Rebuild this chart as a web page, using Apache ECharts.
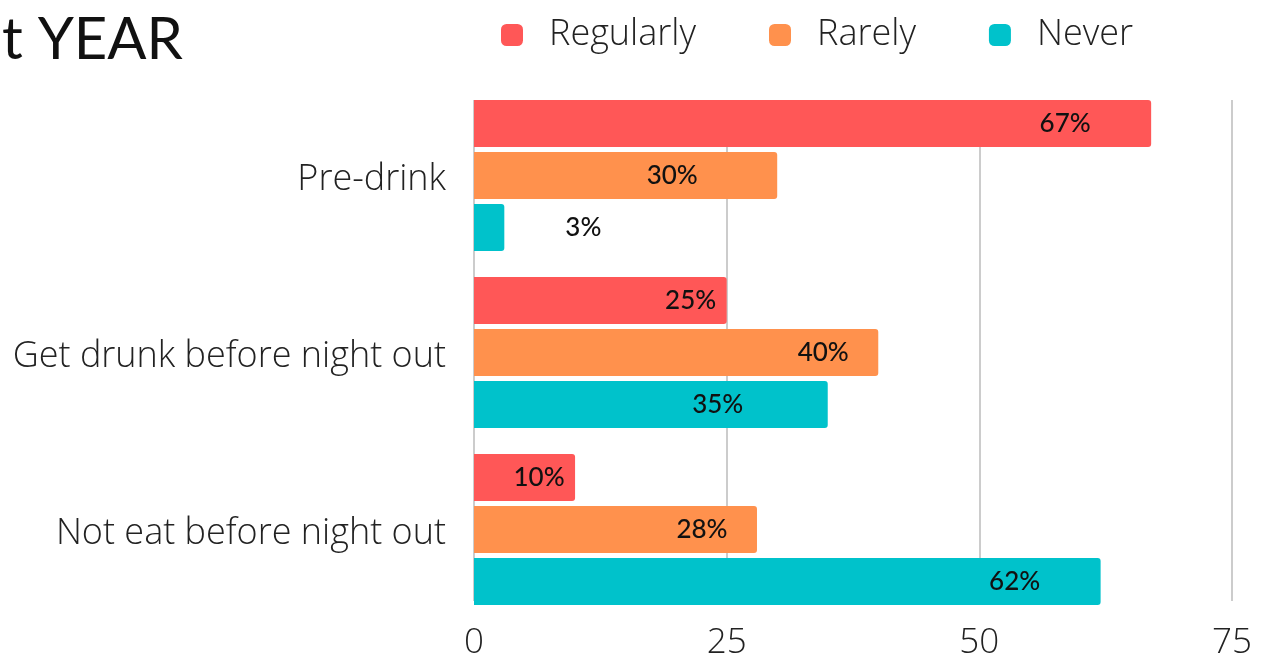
<!DOCTYPE html>
<html>
<head>
<meta charset="utf-8">
<script src="https://cdn.jsdelivr.net/npm/echarts@6/dist/echarts.min.js"></script>
<style>
  html, body { margin: 0; padding: 0; background: #ffffff; }
  #chart { width: 1264px; height: 661px; }
</style>
</head>
<body>
<div id="chart"></div>
<script>
// Habits before a night out, share of respondents (%)
const categories = ['Pre-drink', 'Get drunk before night out', 'Not eat before night out'];
const seriesNames = ['Regularly', 'Rarely', 'Never'];
const regularly = [67, 25, 10];
const rarely = [30, 40, 28];
const never = [3, 35, 62];
const xTicks = [0, 25, 50, 75];

// Horizontal distance (px) from the bar end back to the centre of its value label
const labelShift = [
  [86, 36, 36],
  [105, 55, 55],
  [-79, 110, 86]
];

const colors = ['#FF5757', '#FF914D', '#00C2CB'];
const values = [regularly, rarely, never];

const chart = echarts.init(document.getElementById('chart'), null, { renderer: 'canvas' });

const labelFont = 'Lato, "Noto Sans", sans-serif';
const axisFont = '"Open Sans", "Noto Sans", sans-serif';

const series = seriesNames.map((name, s) => ({
  name: name,
  type: 'bar',
  xAxisIndex: 1,
  yAxisIndex: 1,
  barWidth: 47,
  barGap: '10.6%',
  itemStyle: { color: colors[s], borderRadius: [0, 3, 3, 0] },
  data: values[s].map((v, i) => ({
    value: v,
    label: {
      show: true,
      position: 'insideRight',
      distance: 0,
      align: 'center',
      offset: [-labelShift[s][i], 0],
      formatter: '{c}%',
      color: '#111111',
      fontFamily: labelFont,
      fontSize: 26,
      fontWeight: 500
    }
  }))
}));

chart.setOption({
  animation: false,
  backgroundColor: '#ffffff',
  title: {
    text: 't YEAR',
    left: -3,
    top: 6,
    textStyle: { fontFamily: labelFont, fontSize: 58, fontWeight: 400, color: '#111111' }
  },
  legend: {
    data: seriesNames,
    left: 496,
    top: 12,
    itemWidth: 22,
    itemHeight: 22,
    itemGap: 73,
    icon: 'roundRect',
    textStyle: {
      fontFamily: axisFont,
      fontWeight: 300,
      fontSize: 36,
      color: '#222222',
      padding: [0, 0, 0, 21]
    }
  },
  grid: [
    // grid carrying the value axis ticks and gridlines
    { left: 474, right: 32, top: 100, bottom: 56, containLabel: false },
    // grid carrying the bars
    { left: 474, right: 32, top: 87, bottom: 43, containLabel: false }
  ],
  xAxis: [
    {
      gridIndex: 0,
      type: 'value',
      min: xTicks[0],
      max: xTicks[xTicks.length - 1],
      interval: xTicks[1] - xTicks[0],
      axisLine: { show: false },
      axisTick: { show: false },
      splitLine: { show: true, lineStyle: { color: '#cccccc', width: 2 } },
      axisLabel: {
        margin: 25,
        fontFamily: axisFont,
        fontWeight: 300,
        fontSize: 35,
        color: '#222222'
      }
    },
    {
      gridIndex: 1,
      type: 'value',
      min: xTicks[0],
      max: xTicks[xTicks.length - 1],
      interval: xTicks[1] - xTicks[0],
      show: false,
      splitLine: { show: false }
    }
  ],
  yAxis: [
    {
      gridIndex: 0,
      type: 'category',
      data: categories,
      inverse: true,
      show: false
    },
    {
      gridIndex: 1,
      type: 'category',
      data: categories,
      inverse: true,
      axisLine: { show: false },
      axisTick: { show: false },
      splitLine: { show: false },
      axisLabel: {
        margin: 28,
        formatter: '{cat|{value}}',
        rich: {
          cat: {
            padding: [9, 0, 0, 0],
            fontFamily: axisFont,
            fontWeight: 300,
            fontSize: 36,
            color: '#222222'
          }
        }
      }
    }
  ],
  series: series
});
</script>
</body>
</html>
